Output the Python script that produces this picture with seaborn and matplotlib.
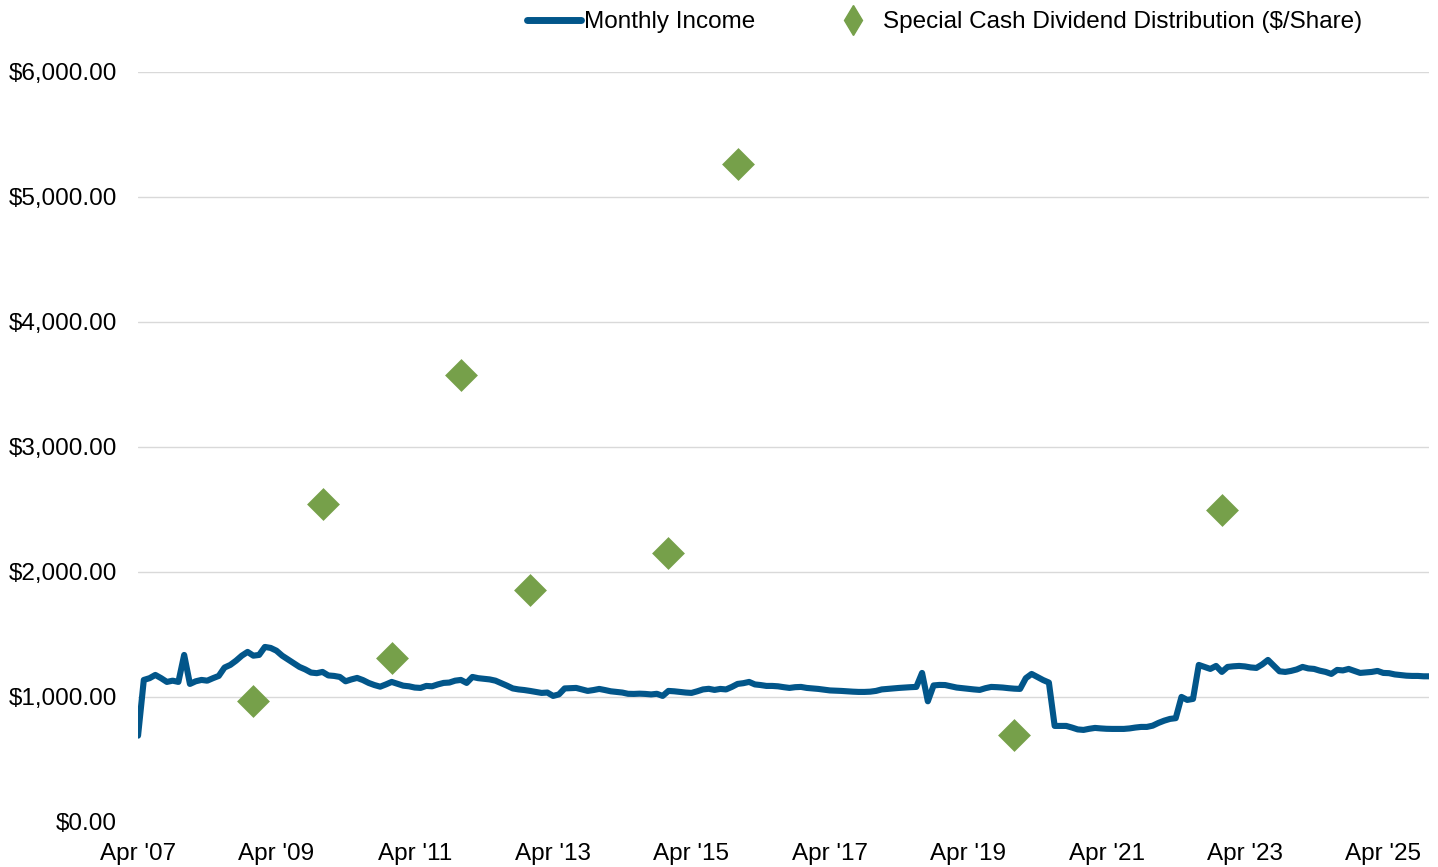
import pandas as pd
import matplotlib.pyplot as plt
import seaborn as sns
from matplotlib.lines import Line2D

# --- datos ---
# ingreso mensual, un valor por mes desde abril 2007 (indice 0)
monthly_income = [
    690, 1136, 1150, 1176, 1150, 1120, 1130, 1120, 1336, 1104, 1125, 1136,
    1130, 1150, 1168, 1235, 1256, 1290, 1330, 1360, 1330, 1336, 1400, 1392,
    1370, 1330, 1300, 1270, 1240, 1220, 1195, 1190, 1200, 1172, 1168, 1160,
    1125, 1140, 1152, 1135, 1112, 1095, 1082, 1100, 1120, 1105, 1090, 1085,
    1075, 1072, 1088, 1085, 1100, 1112, 1115, 1130, 1136, 1112, 1160, 1150,
    1145, 1140, 1130, 1110, 1090, 1068, 1060, 1055, 1048, 1040, 1032, 1035,
    1008, 1020, 1068, 1070, 1072, 1060, 1048, 1055, 1064, 1055, 1045, 1040,
    1035, 1025, 1024, 1026, 1024, 1020, 1025, 1008, 1048, 1045, 1040, 1035,
    1032, 1045, 1060, 1065, 1056, 1064, 1060, 1080, 1104, 1110, 1120, 1100,
    1095, 1088, 1088, 1085, 1078, 1072, 1078, 1080, 1072, 1068, 1064, 1058,
    1052, 1050, 1048, 1045, 1042, 1040, 1040, 1042, 1048, 1060, 1064, 1068,
    1072, 1075, 1078, 1080, 1192, 965, 1092, 1096, 1095, 1085, 1075, 1070,
    1065, 1060, 1056, 1070, 1080, 1078, 1075, 1070, 1066, 1064, 1150, 1184,
    1160, 1135, 1115, 768, 768, 768, 755, 740, 736, 745, 752, 748,
    745, 744, 744, 744, 748, 755, 760, 760, 770, 792, 810, 824,
    830, 1000, 976, 984, 1256, 1240, 1224, 1248, 1200, 1240, 1245, 1248,
    1244, 1236, 1232, 1260, 1296, 1250, 1205, 1200, 1208, 1220, 1240, 1228,
    1224, 1210, 1200, 1184, 1216, 1212, 1224, 1208, 1192, 1196, 1200, 1208,
    1192, 1190, 1180, 1175, 1170, 1168, 1168, 1165, 1165,
]

# dividendos especiales (mes indice, $/accion)
dividend_month = [20, 32, 44, 56, 68, 92, 104, 152, 188]
dividend_value = [968, 2544, 1312, 3576, 1856, 2152, 5264, 696, 2496]

tick_pos = [0, 24, 48, 72, 96, 120, 144, 168, 192, 216]
tick_labels = ["Apr '07", "Apr '09", "Apr '11", "Apr '13", "Apr '15",
               "Apr '17", "Apr '19", "Apr '21", "Apr '23", "Apr '25"]

df_line = pd.DataFrame({"mes": range(len(monthly_income)), "ingreso": monthly_income})
df_div = pd.DataFrame({"mes": dividend_month, "dividendo": dividend_value})

azul = "#02568A"
verde = "#76A04A"

# --- grafico ---
sns.set_theme(style="white")
plt.rcParams["font.family"] = ["Liberation Sans", "DejaVu Sans"]
plt.rcParams["text.color"] = "black"

fig = plt.figure(figsize=(14.38, 8.67), dpi=100)
ax = fig.add_axes([0.096, 0.052, 0.898, 0.865])

sns.lineplot(data=df_line, x="mes", y="ingreso", color=azul, linewidth=4.4, ax=ax, zorder=2)
sns.scatterplot(data=df_div, x="mes", y="dividendo", marker="D", s=280, color=verde,
                edgecolor=verde, linewidth=0, ax=ax, zorder=3)

ax.set_xlim(0, len(monthly_income) - 1)
ax.set_ylim(0, 6000)
ax.set_yticks(range(0, 6001, 1000))
ax.set_yticklabels([f"${v:,.2f}" for v in range(0, 6001, 1000)])
ax.set_xticks(tick_pos)
ax.set_xticklabels(tick_labels)
ax.tick_params(axis="both", labelsize=17.5, colors="black", length=0)
ax.tick_params(axis="x", pad=15)
ax.tick_params(axis="y", pad=15)
ax.set_xlabel("")
ax.set_ylabel("")

ax.grid(axis="y", color="#D9D9D9", linewidth=1)
ax.yaxis.get_gridlines()[0].set_visible(False)
ax.set_axisbelow(True)
for s in ax.spines.values():
    s.set_visible(False)

handles = [
    Line2D([0], [0], color=azul, linewidth=5),
    Line2D([0], [0], marker="d", color=verde, linestyle="none", markersize=15),
]
fig.legend(handles, ["Monthly Income", "Special Cash Dividend Distribution ($/Share)"],
           loc="upper center", bbox_to_anchor=(0.657, 1.012), ncol=2, frameon=False,
           fontsize=17.5, handlelength=2.2, handletextpad=0.15, columnspacing=2.9)

plt.savefig("out.png", dpi=100)
